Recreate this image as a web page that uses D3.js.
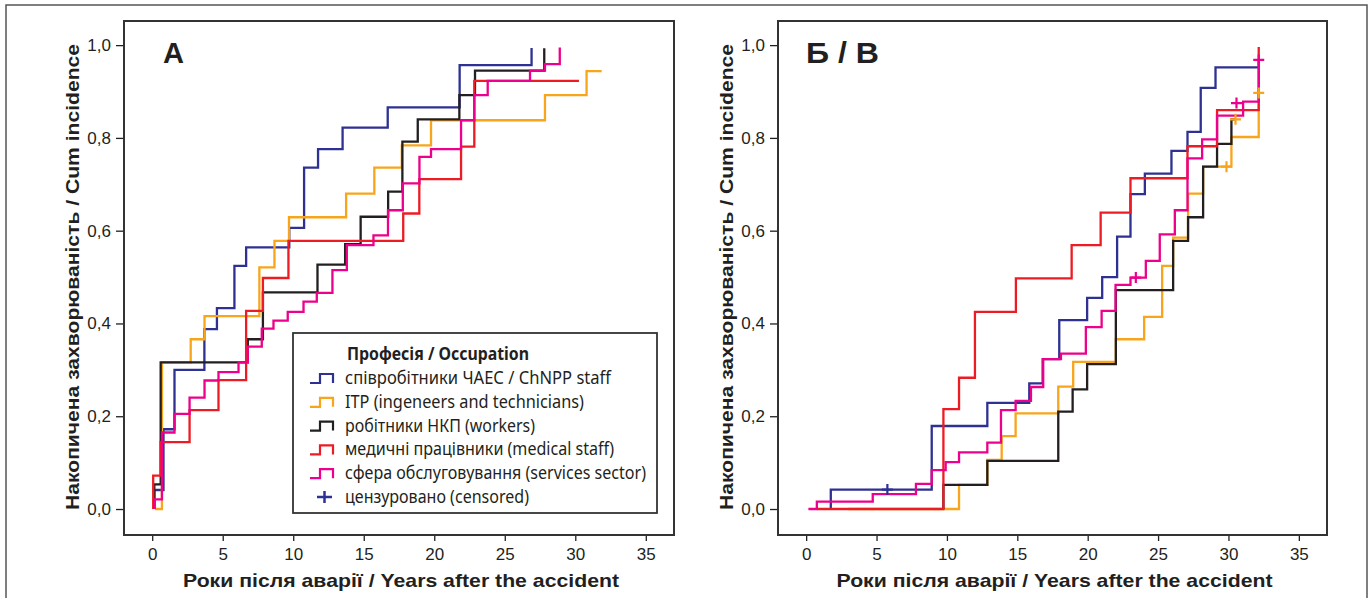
<!DOCTYPE html>
<html>
<head>
<meta charset="utf-8">
<script src="https://cdn.jsdelivr.net/npm/d3@7.9.0/dist/d3.min.js"></script>
<style>
  body { margin: 0; background: #fff; }
  svg { display: block; }
  .tick text { font-family: "Liberation Sans Narrow", "Liberation Sans", Arial, sans-serif; font-size: 17px; fill: #231f20; }
  .tick line { stroke: #231f20; stroke-width: 1.3; }
</style>
</head>
<body>
<svg id="chart" width="1369" height="598"></svg>
<script>
const occupations = [
  'співробітники ЧАЕС / ChNPP staff',
  'ITP (ingeneers and technicians)',
  'робітники НКП (workers)',
  'медичні працівники (medical staff)',
  'сфера обслуговування (services sector)'
];
const colors = ['#2e3192', '#f8a51b', '#231f20', '#ed1c24', '#ec008c'];
const xTicks = [0, 5, 10, 15, 20, 25, 30, 35];
const yTicks = [0, 0.2, 0.4, 0.6, 0.8, 1.0];

// panel A: [years, cumulative incidence], step after
const aStaff = [[0.15,0],[0.15,0.041],[0.8,0.172],[1.58,0.30],[3.7,0.388],[4.59,0.433],[5.83,0.524],[6.66,0.564],[9.72,0.606],[10.77,0.736],[11.76,0.776],[13.5,0.822],[16.7,0.866],[21.8,0.957],[26.9,0.994]];
const aItp = [[0.2,0],[0.69,0.316],[2.73,0.366],[3.71,0.416],[7.6,0.521],[8.67,0.578],[9.7,0.629],[13.75,0.680],[15.75,0.736],[17.7,0.784],[19.77,0.838],[27.85,0.892],[30.8,0.944],[31.87,0.944]];
const aWorkers = [[0.15,0],[0.15,0.053],[0.6,0.316],[6.78,0.366],[7.85,0.467],[11.72,0.527],[13.68,0.571],[14.78,0.630],[16.73,0.684],[17.74,0.792],[18.83,0.840],[21.78,0.892],[22.89,0.945],[27.8,0.993]];
const aMedical = [[0.07,0],[0.07,0.072],[0.6,0.144],[2.65,0.213],[4.7,0.278],[6.66,0.427],[7.85,0.498],[9.66,0.578],[17.8,0.637],[18.94,0.711],[21.9,0.781],[22.84,0.923],[30.26,0.923]];
const aServices = [[0.15,0],[0.15,0.021],[0.69,0.165],[1.58,0.205],[2.65,0.240],[3.71,0.277],[4.7,0.295],[6.12,0.316],[6.78,0.350],[7.77,0.389],[8.6,0.406],[9.61,0.425],[10.73,0.447],[11.67,0.466],[12.78,0.515],[13.8,0.569],[15.69,0.590],[16.72,0.644],[17.77,0.702],[18.95,0.759],[19.77,0.776],[21.9,0.838],[22.84,0.892],[23.79,0.923],[26.79,0.945],[27.85,0.959],[28.9,0.995]];

// panel Б / В
const bStaff = [[1.75,0],[1.75,0.042],[8.92,0.179],[12.87,0.229],[15.85,0.271],[16.8,0.323],[17.98,0.407],[19.96,0.455],[21.03,0.5],[22.09,0.587],[23.04,0.679],[24.06,0.723],[25.95,0.772],[27.09,0.813],[28.03,0.908],[29.08,0.952],[32.15,0.952]];
const bItp = [[3.0,0],[10.86,0.052],[12.87,0.106],[13.89,0.157],[14.88,0.206],[17.91,0.264],[18.97,0.317],[22.0,0.366],[24.01,0.414],[25.29,0.524],[26.07,0.585],[27.13,0.68],[28.2,0.738],[30.21,0.802],[32.15,0.897]];
const bWorkers = [[9.75,0],[9.75,0.052],[12.87,0.104],[17.91,0.21],[18.93,0.258],[19.96,0.3125],[22.0,0.472],[26.07,0.578],[27.13,0.629],[28.2,0.738],[29.19,0.787],[30.21,0.84],[30.5,0.84]];
const bMedical = [[0.8,0],[9.75,0.2155],[10.86,0.283],[11.99,0.425],[14.9,0.497],[18.86,0.569],[20.92,0.639],[23.04,0.713],[27.09,0.782],[29.19,0.86],[32.15,0.996]];
const bServices = [[0.16,0],[0.76,0.016],[4.73,0.032],[7.8,0.054],[8.92,0.084],[9.91,0.101],[10.86,0.122],[12.87,0.143],[13.84,0.213],[14.88,0.233],[15.97,0.263],[16.84,0.323],[18.1,0.335],[19.87,0.392],[20.99,0.427],[21.98,0.483],[23.04,0.499],[24.13,0.535],[25.12,0.592],[26.19,0.644],[27.09,0.756],[28.13,0.797],[29.19,0.848],[31.04,0.878],[32.15,0.968]];

// censored marks
const bCensorStaff = [[5.77,0.042]];
const bCensorItp = [[29.86,0.738],[30.5,0.84],[32.15,0.897]];
const bCensorServices = [[23.42,0.499],[30.57,0.875],[32.15,0.968]];

const svg = d3.select('#chart');

// outer frame
svg.append('rect')
  .attr('x', 6).attr('y', 5).attr('width', 1361).attr('height', 620)
  .attr('fill', 'none').attr('stroke', '#555').attr('stroke-width', 1.5);

function drawPanel(p) {
  const x = d3.scaleLinear().domain([-2, 37]).range([p.left, p.right]);
  const y = d3.scaleLinear().domain([-0.056, 1.052]).range([p.bottom, p.top]);
  const g = svg.append('g');

  g.append('g')
    .attr('transform', `translate(0,${p.bottom})`)
    .call(d3.axisBottom(x).tickValues(xTicks).tickSize(6).tickPadding(7).tickFormat(d3.format('d')))
    .call(a => a.select('.domain').remove());

  g.append('g')
    .attr('transform', `translate(${p.left},0)`)
    .call(d3.axisLeft(y).tickValues(yTicks).tickSize(8).tickPadding(5)
      .tickFormat(d => d.toFixed(1).replace('.', ',')))
    .call(a => a.select('.domain').remove());

  g.append('rect')
    .attr('x', p.left).attr('y', p.top)
    .attr('width', p.right - p.left).attr('height', p.bottom - p.top)
    .attr('fill', 'none').attr('stroke', '#333').attr('stroke-width', 2);

  // step lines
  const line = d3.line().x(d => x(d[0])).y(d => y(d[1])).curve(d3.curveStepAfter);
  p.series.forEach((s, i) => {
    g.append('path').datum(s)
      .attr('d', line)
      .attr('fill', 'none')
      .attr('stroke', colors[i])
      .attr('stroke-width', 2.3);
  });

  // censored "+"
  p.censored.forEach((pts, i) => {
    pts.forEach(d => {
      g.append('path')
        .attr('d', `M${x(d[0]) - 5.5},${y(d[1])}h11M${x(d[0])},${y(d[1]) - 5.5}v11`)
        .attr('stroke', colors[i]).attr('stroke-width', 2.2);
    });
  });

  // panel label
  g.append('text')
    .attr('x', p.labelX).attr('y', 63)
    .attr('textLength', p.labelW).attr('lengthAdjust', 'spacingAndGlyphs')
    .style('font-family', '"Liberation Sans", Arial, sans-serif')
    .style('font-size', '30px').style('font-weight', 'bold').attr('fill', '#231f20')
    .text(p.label);

  // axis titles
  g.append('text')
    .attr('x', (p.left + p.right) / 2 + 2).attr('y', 587)
    .attr('text-anchor', 'middle')
    .attr('textLength', 436).attr('lengthAdjust', 'spacingAndGlyphs')
    .style('font-family', '"Liberation Sans", Arial, sans-serif')
    .style('font-size', '19px').style('font-weight', 'bold').attr('fill', '#231f20')
    .text('Роки після аварії / Years after the accident');

  const yt = p.left - 45;
  g.append('text')
    .attr('transform', `translate(${yt},277) rotate(-90)`)
    .attr('text-anchor', 'middle')
    .attr('textLength', 466).attr('lengthAdjust', 'spacingAndGlyphs')
    .style('font-family', '"Liberation Sans", Arial, sans-serif')
    .style('font-size', '19px').style('font-weight', 'bold').attr('fill', '#231f20')
    .text('Накопичена захворюваність / Cum incidence');

  return { x, y, g };
}

drawPanel({
  left: 124, right: 674, top: 21, bottom: 535,
  label: 'A', labelX: 163, labelW: 21,
  series: [aStaff, aItp, aWorkers, aMedical, aServices],
  censored: [[], [], [], [], []]
});

drawPanel({
  left: 778, right: 1327, top: 21, bottom: 535,
  label: 'Б / В', labelX: 806, labelW: 73,
  series: [bStaff, bItp, bWorkers, bMedical, bServices],
  censored: [bCensorStaff, bCensorItp, [], [], bCensorServices]
});

// legend (panel A)
const lg = svg.append('g');
lg.append('rect')
  .attr('x', 293).attr('y', 333).attr('width', 364).attr('height', 180)
  .attr('fill', '#fff').attr('stroke', '#333').attr('stroke-width', 1.8);

const legendFont = '"Noto Sans", "Open Sans", sans-serif';
lg.append('text')
  .attr('x', 347).attr('y', 360)
  .attr('textLength', 182).attr('lengthAdjust', 'spacingAndGlyphs')
  .style('font-family', legendFont).style('font-size', '18px').style('font-weight', 'bold')
  .attr('fill', '#231f20')
  .text('Професія / Occupation');

const legendWidths = [266, 239, 190, 269, 301];
occupations.forEach((name, i) => {
  const by = 383 + i * 23.8;
  lg.append('path')
    .attr('d', `M310,${by}H320V${by - 9}H333V${by}`)
    .attr('fill', 'none').attr('stroke', colors[i]).attr('stroke-width', 2.2);
  lg.append('text')
    .attr('x', 345).attr('y', by + 1)
    .attr('textLength', legendWidths[i]).attr('lengthAdjust', 'spacingAndGlyphs')
    .style('font-family', legendFont).style('font-size', '18px')
    .attr('fill', '#231f20')
    .text(name);
});
const cy = 383 + 5 * 23.8;
lg.append('path')
  .attr('d', `M317,${cy - 5}h15M324.5,${cy - 11}v12`)
  .attr('stroke', colors[0]).attr('stroke-width', 2.5);
lg.append('text')
  .attr('x', 345).attr('y', cy + 1)
  .attr('textLength', 184).attr('lengthAdjust', 'spacingAndGlyphs')
  .style('font-family', legendFont).style('font-size', '18px')
  .attr('fill', '#231f20')
  .text('цензуровано (censored)');
</script>
</body>
</html>
